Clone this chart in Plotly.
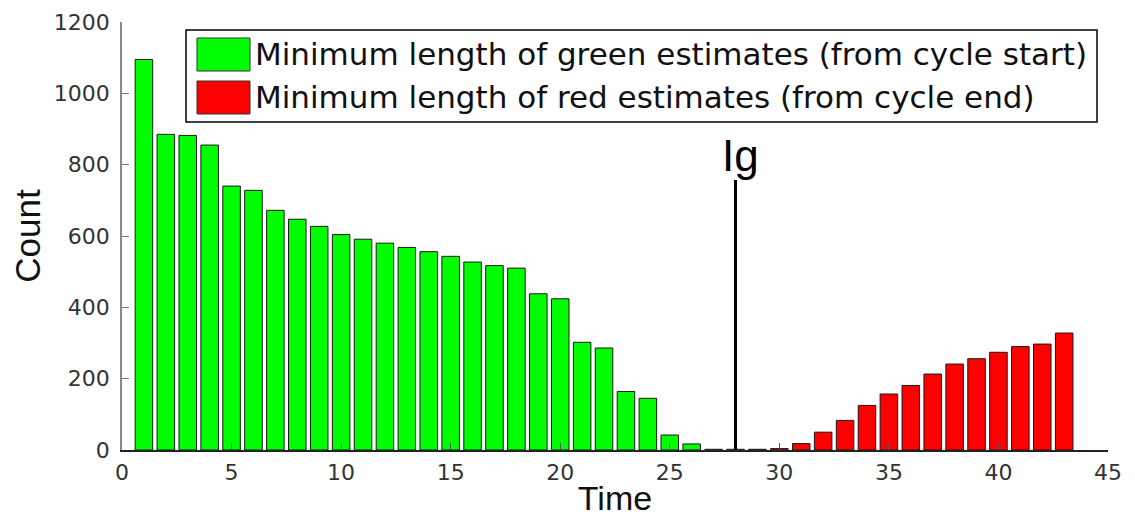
import plotly.graph_objects as go

# ---- data ----
green_x = list(range(1, 29))
green_y = [1095, 885, 882, 855, 740, 728, 672, 647, 627, 604, 591, 580, 568, 556,
           543, 527, 517, 510, 438, 424, 302, 286, 164, 145, 42, 17, 2, 2]
red_x = list(range(29, 44))
red_y = [2, 4, 18, 50, 83, 125, 157, 181, 213, 241, 256, 274, 290, 297, 328]
green_name = "Minimum length of green estimates (from cycle start)"
red_name = "Minimum length of red estimates (from cycle end)"
ig_x = 28
ig_top = 757
x_ticks = [0, 5, 10, 15, 20, 25, 30, 35, 40, 45]
y_ticks = [0, 200, 400, 600, 800, 1000, 1200]

# page body has an 8px margin; compensate so the screenshot lines up
OFF = 8
W, H = 1135 - OFF, 523 - OFF
L, R, T, B = 122, 1108, 22, 450  # target pixel positions in the screenshot

def px(x):
    return (x - L) / (R - L)

def py(y):
    return (B - y) / (B - T)

FONT = "Liberation Sans, Arial, sans-serif"
WFONT = "DejaVu Sans, sans-serif"

fig = go.Figure()
fig.add_trace(go.Bar(x=green_x, y=green_y, name=green_name, width=0.8,
                     marker=dict(color="#00ff00", line=dict(color="#1a1a1a", width=1)),
                     showlegend=False))
fig.add_trace(go.Bar(x=red_x, y=red_y, name=red_name, width=0.8,
                     marker=dict(color="#ff0000", line=dict(color="#1a1a1a", width=1)),
                     showlegend=False))
# Ig line
fig.add_trace(go.Scatter(x=[ig_x, ig_x], y=[0, ig_top], mode="lines",
                         line=dict(color="black", width=3), showlegend=False,
                         hoverinfo="skip"))

shapes = []
annotations = []
# legend box
shapes.append(dict(type="rect", xref="paper", yref="paper",
                   x0=px(186), x1=px(1097), y0=py(122), y1=py(30),
                   line=dict(color="black", width=1.5), fillcolor="white", layer="above"))
for (c, y0, y1, name) in [("#00ff00", 38, 71, green_name), ("#ff0000", 81, 114, red_name)]:
    shapes.append(dict(type="rect", xref="paper", yref="paper",
                       x0=px(197), x1=px(250), y0=py(y1), y1=py(y0),
                       line=dict(color="#333333", width=1), fillcolor=c, layer="above"))
    annotations.append(dict(xref="paper", yref="paper", x=px(253), y=py((y0 + y1) / 2),
                            text=name, showarrow=False, xanchor="left", yanchor="middle",
                            font=dict(family=WFONT, size=31, color="#111111")))
# Ig label
annotations.append(dict(x=ig_x, y=ig_top, xref="x", yref="y", text="Ig", showarrow=False,
                        xanchor="center", yanchor="bottom", yshift=-2, xshift=5,
                        font=dict(family=FONT, size=44, color="black")))

fig.update_layout(
    width=W, height=H,
    margin=dict(l=L - OFF, r=W - (R - OFF), t=T - OFF, b=H - (B - OFF), pad=0),
    paper_bgcolor="white", plot_bgcolor="white",
    barmode="overlay",
    shapes=shapes, annotations=annotations,
    font=dict(family=FONT),
    xaxis=dict(range=[0, 45], tickvals=x_ticks, ticks="inside", ticklen=7,
               tickcolor="#555555", showline=True, linecolor="#222222", linewidth=1.5,
               showgrid=False, zeroline=False, automargin=False,
               tickfont=dict(family=WFONT, size=22, color="#333333"),
               ticklabelstandoff=2,
               title=dict(text="Time", font=dict(family=FONT, size=34, color="#111111"),
                          standoff=2)),
    yaxis=dict(range=[0, 1200], tickvals=y_ticks, ticks="inside", ticklen=7,
               tickcolor="#777777", showline=True, linecolor="#888888", linewidth=1.5,
               showgrid=False, zeroline=False, automargin=False,
               tickfont=dict(family=WFONT, size=22, color="#333333"),
               ticklabelstandoff=6,
               title=dict(text="Count", font=dict(family=FONT, size=35, color="#111111"),
                          standoff=4)),
)

fig.write_html("out.html")
